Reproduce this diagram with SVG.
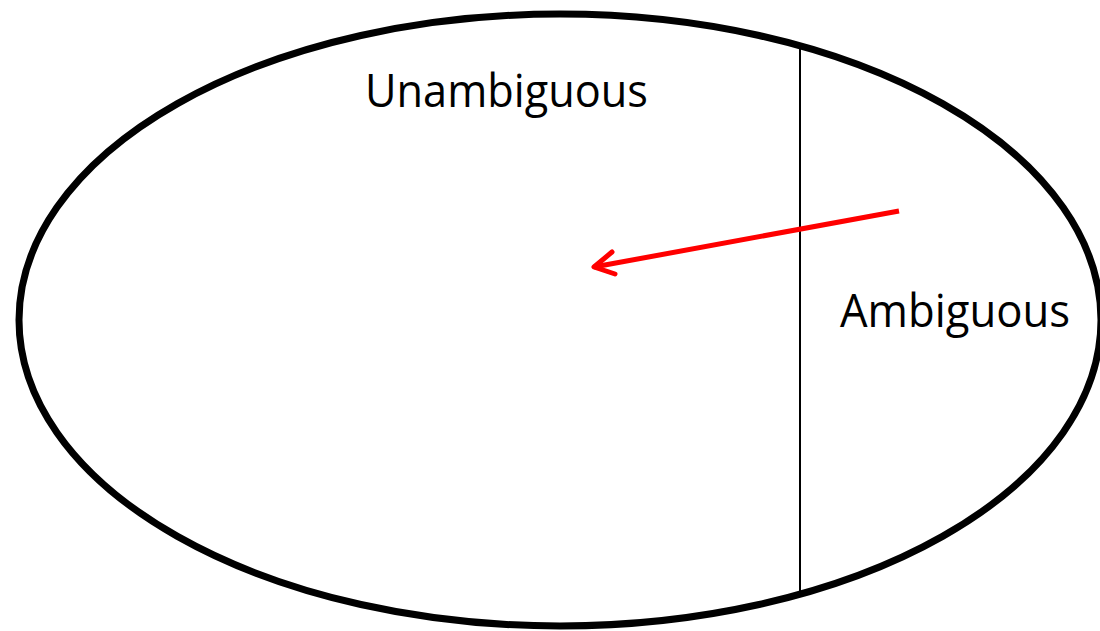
<svg xmlns="http://www.w3.org/2000/svg" width="1100" height="631" viewBox="0 0 1100 631">
<style>
.lbl{font-family:"Open Sans","Liberation Sans",Arial,sans-serif;font-size:45px;fill:#000}
</style>
<rect width="1100" height="631" fill="#fff"/>
<g id="region">
<ellipse cx="560" cy="320" rx="541" ry="306" fill="none" stroke="#000" stroke-width="7"/>
</g>
<g id="divider">
<line x1="800" y1="45" x2="800" y2="593" stroke="#000" stroke-width="2"/>
</g>
<g id="label-unambiguous">
<text class="lbl" x="365" y="107" textLength="283" lengthAdjust="spacingAndGlyphs">Unambiguous</text>
</g>
<g id="label-ambiguous">
<text class="lbl" x="840" y="327" textLength="230" lengthAdjust="spacingAndGlyphs">Ambiguous</text>
</g>
<g id="connectors">
<line x1="899" y1="211" x2="594" y2="267" stroke="#f00" stroke-width="5"/>
<polyline points="612,252 594,267 615,274" fill="none" stroke="#f00" stroke-width="5" stroke-linecap="round" stroke-linejoin="round"/>
</g>
</svg>
